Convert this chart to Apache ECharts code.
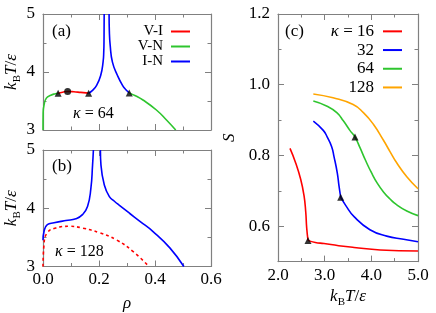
<!DOCTYPE html>
<html><head><meta charset="utf-8">
<script src="https://cdn.jsdelivr.net/npm/echarts@6/dist/echarts.min.js"></script>
<style>html,body{margin:0;padding:0;background:#fff}#c{width:436px;height:313px}</style>
</head><body><div id="c"></div>
<script>
// ---------- Panel (a): kappa = 64, T vs rho ----------
const a_VN_low  = [[0,3.0],[0.0005,3.3],[0.0036,3.43],[0.012,3.55],[0.028,3.60],[0.044,3.625],[0.054,3.635]];
const a_VI      = [[0.054,3.635],[0.07,3.652],[0.088,3.665],[0.11,3.66],[0.135,3.648],[0.163,3.635]];
const a_IN_left = [[0.163,3.635],[0.176,3.68],[0.1915,3.77],[0.206,3.94],[0.2145,4.17],[0.217,4.35],[0.218,4.6],[0.2185,5.0]];
const a_IN_right= [[0.236,5.0],[0.237,4.7],[0.240,4.46],[0.248,4.17],[0.266,3.94],[0.284,3.77],[0.297,3.69],[0.308,3.64]];
const a_VN_high = [[0.308,3.64],[0.33,3.59],[0.357,3.517],[0.405,3.345],[0.441,3.172],[0.474,3.0]];
const a_triangles = [[0.054,3.635],[0.163,3.635],[0.308,3.64]];
const a_circles   = [[0.088,3.665]];
// ---------- Panel (b): kappa = 128 ----------
const b_IN_left = [[0,3.45],[0.0036,3.60],[0.0155,3.72],[0.0395,3.75],[0.0816,3.79],[0.1175,3.82],[0.141,3.89],[0.159,4.03],[0.171,4.34],[0.177,4.74],[0.180,5.0]];
const b_IN_right= [[0.205,5.0],[0.207,4.74],[0.219,4.40],[0.237,4.20],[0.255,4.12],[0.273,4.05],[0.31,3.91],[0.345,3.78],[0.393,3.60],[0.453,3.32],[0.503,3.0]];
const b_VI      = [[0,3.0],[0.0036,3.38],[0.0155,3.58],[0.0456,3.66],[0.0934,3.69],[0.141,3.66],[0.201,3.58],[0.261,3.46],[0.321,3.26],[0.378,3.0]];
// ---------- Panel (c): S vs kBT/eps ----------
const c16_low  = [[2.257,0.820],[2.379,0.779],[2.486,0.733],[2.557,0.687],[2.594,0.641],[2.615,0.595],[2.643,0.560]];
const c16_high = [[2.643,0.560],[2.80,0.554],[2.986,0.551],[3.30,0.545],[3.63,0.540],[4.19,0.533],[5.0,0.530]];
const c32_low  = [[2.757,0.897],[2.97,0.871],[3.056,0.852],[3.15,0.825],[3.2,0.797],[3.27,0.751],[3.307,0.714],[3.343,0.682]];
const c32_high = [[3.343,0.682],[3.45,0.659],[3.63,0.627],[3.97,0.590],[4.33,0.572],[4.69,0.563],[5.0,0.556]];
const c64      = [[2.757,0.954],[3.04,0.940],[3.26,0.921],[3.40,0.898],[3.54,0.871],[3.65,0.852],[3.757,0.822],[3.88,0.785],[4.00,0.752],[4.13,0.721],[4.26,0.697],[4.40,0.677],[4.54,0.661],[4.76,0.643],[5.0,0.630]];
const c128     = [[2.757,0.974],[3.18,0.963],[3.61,0.944],[3.83,0.921],[4.04,0.889],[4.26,0.843],[4.40,0.811],[4.54,0.780],[4.76,0.740],[5.0,0.706]];
const c_triangles = [[2.643,0.560],[3.343,0.682],[3.65,0.852]];
// ---------- ticks ----------
const rhoMajor = [0,0.2,0.4,0.6], rhoMinor = [0.1,0.3,0.5];
const TMajor = [3,4,5], TMinor = [3.5,4.5];
const cXMajor = [2,3,4,5], cXMinor = [2.5,3.5,4.5];
const cYMajor = [0.6,0.8,1.0,1.2], cYMinor = [0.5,0.7,0.9,1.1];
const legendA = ['V-I','V-N','I-N'];
const legendC = ['κ = 16','32','64','128'];

const FONT = '"Liberation Serif","DejaVu Serif",serif';
const AX = '#808080';
const RED='#ff0000', GREEN='#2ec52e', BLUE='#0000ff', ORANGE='#ffa500';

const xAxes = [], yAxes = [];
const TT = '{i|k}{s|B}{i|T}{n|/}{i|ε}';
const nameRich = {
  i:{fontStyle:'italic',fontFamily:FONT,fontSize:17,lineHeight:22,verticalAlign:'middle',color:'#000'},
  s:{fontFamily:FONT,fontSize:11,lineHeight:8,verticalAlign:'bottom',color:'#000'},
  n:{fontFamily:FONT,fontSize:17,lineHeight:22,verticalAlign:'middle',color:'#000'}
};
function addAxes(list, grid, pos, opp, min, max, majors, minors, fmt, name, nameGap) {
  const idx = list.length;
  const base = {gridIndex:grid, type:'value', min:min, max:max, splitLine:{show:false}};
  list.push(Object.assign({}, base, {
    position:pos,
    axisLine:{show:true,onZero:false,lineStyle:{color:AX,width:1.2}},
    axisTick:{show:true,inside:true,length:6,customValues:majors,lineStyle:{color:AX,width:1}},
    axisLabel:{show:!!fmt,customValues:majors,formatter:fmt||'',color:'#000',fontFamily:FONT,fontSize:17,margin:(pos==='left'?8:5)},
    name:name||'', nameLocation:'middle', nameGap:nameGap||0,
    nameRotate:(pos==='left'?90:0),
    nameTextStyle:{fontFamily:FONT,fontSize:17,color:'#000',rich:nameRich}
  }));
  list.push(Object.assign({}, base, {
    position:opp,
    axisLine:{show:true,onZero:false,lineStyle:{color:AX,width:1.2}},
    axisTick:{show:true,inside:true,length:6,customValues:majors,lineStyle:{color:AX,width:1}},
    axisLabel:{show:false}
  }));
  [pos,opp].forEach(p=>list.push(Object.assign({}, base, {
    position:p,
    axisLine:{show:false,onZero:false},
    axisTick:{show:true,inside:true,length:3.5,customValues:minors,lineStyle:{color:AX,width:1}},
    axisLabel:{show:false}
  })));
  return idx;
}
const f1 = v => v.toFixed(1);
const f0 = v => String(Math.round(v));
const axA = {x:addAxes(xAxes,0,'bottom','top',0,0.6,rhoMajor,rhoMinor,null),
             y:addAxes(yAxes,0,'left','right',3,5,TMajor,TMinor,f0,TT,20)};
const axB = {x:addAxes(xAxes,1,'bottom','top',0,0.6,rhoMajor,rhoMinor,f1,'{i|ρ}',26),
             y:addAxes(yAxes,1,'left','right',3,5,TMajor,TMinor,f0,TT,20)};
const axC = {x:addAxes(xAxes,2,'bottom','top',2,5,cXMajor,cXMinor,f1,TT,24),
             y:addAxes(yAxes,2,'left','right',0.5,1.2,cYMajor,cYMinor,f1,'{i|S}',37)};

function line(name, data, ax, color, extra) {
  return Object.assign({name:name,type:'line',data:data,xAxisIndex:ax.x,yAxisIndex:ax.y,
    showSymbol:false,symbol:'none',smooth:0.5,lineStyle:{color:color,width:1.6},itemStyle:{color:color},
    emphasis:{disabled:true},animation:false,z:3}, extra||{});
}
function marks(data, ax, symbol, size) {
  return {type:'scatter',data:data,xAxisIndex:ax.x,yAxisIndex:ax.y,symbol:symbol,symbolSize:size,
    itemStyle:{color:'#000'},animation:false,z:5,emphasis:{disabled:true}};
}
const series = [
  line('V-N', a_VN_low, axA, GREEN),
  line('V-I', a_VI, axA, RED),
  line('I-N', a_IN_left, axA, BLUE),
  line('I-N', a_IN_right, axA, BLUE),
  line('V-N', a_VN_high, axA, GREEN),
  marks(a_triangles, axA, 'triangle', 7),
  marks(a_circles, axA, 'circle', 7),
  line('b IN', b_IN_left, axB, BLUE),
  line('b IN', b_IN_right, axB, BLUE),
  line('b VI', b_VI, axB, RED, {lineStyle:{color:RED,width:1.6,type:[3,3]}}),
  line('κ = 16', c16_low, axC, RED),
  line('κ = 16', c16_high, axC, RED),
  line('32', c32_low, axC, BLUE),
  line('32', c32_high, axC, BLUE),
  line('64', c64, axC, GREEN),
  line('128', c128, axC, ORANGE),
  marks(c_triangles, axC, 'triangle', 7)
];

const chart = echarts.init(document.getElementById('c'));
chart.setOption({
  backgroundColor:'#fff',
  animation:false,
  grid:[
    {left:43,top:14,width:168,height:116},
    {left:43,top:150,width:168,height:117},
    {left:278,top:14,width:140,height:253}
  ],
  xAxis:xAxes, yAxis:yAxes,
  legend:[
    {data:legendA, orient:'vertical', right:246, top:24, align:'right', icon:'rect', itemWidth:19, itemHeight:2,
     itemGap:0, padding:0, selectedMode:false,
     textStyle:{fontFamily:FONT,fontSize:15,lineHeight:15,color:'#000',width:30,align:'right',padding:[0,3,0,0]}},
    {data:legendC, orient:'vertical', right:34, top:22, align:'right', icon:'rect', itemWidth:19, itemHeight:2,
     itemGap:0, padding:0, selectedMode:false,
     formatter: n => n.indexOf('κ')===0 ? '{i|κ} = 16' : n,
     textStyle:{fontFamily:FONT,fontSize:17,lineHeight:18.7,color:'#000',width:50,align:'right',padding:[0,4,0,0],
       rich:{i:{fontStyle:'italic',fontFamily:FONT,fontSize:17}}}}
  ],
  graphic:[
    {type:'text',left:52,top:23,style:{text:'(a)',font:'17px '+FONT,fill:'#000'}},
    {type:'text',left:52,top:158,style:{text:'(b)',font:'17px '+FONT,fill:'#000'}},
    {type:'text',left:285,top:23,style:{text:'(c)',font:'17px '+FONT,fill:'#000'}},
    {type:'text',left:73,top:106,style:{text:'{i|κ} = 64',font:'16px '+FONT,fill:'#000',rich:{i:{fontStyle:'italic',fontFamily:FONT,fontSize:16}}}},
    {type:'text',left:55,top:244,style:{text:'{i|κ} = 128',font:'16px '+FONT,fill:'#000',rich:{i:{fontStyle:'italic',fontFamily:FONT,fontSize:16}}}}
  ],
  series:series
});
</script></body></html>
